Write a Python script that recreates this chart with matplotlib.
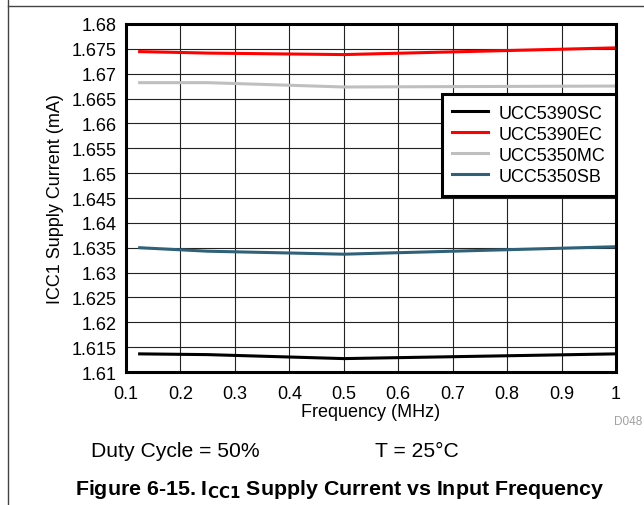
import matplotlib
matplotlib.use("Agg")
import matplotlib.pyplot as plt
from matplotlib.lines import Line2D

plt.rcParams['font.family'] = ['Liberation Sans', 'DejaVu Sans']

# Data
freq_mhz = [0.125, 0.25, 0.5, 1.0]
ucc5390sc = [1.61365, 1.6135, 1.6127, 1.61365]
ucc5390ec = [1.67445, 1.67415, 1.67385, 1.6752]
ucc5350mc = [1.6682, 1.6682, 1.66733, 1.66752]
ucc5350sb = [1.635, 1.6343, 1.6337, 1.6352]

series_names = ["UCC5390SC", "UCC5390EC", "UCC5350MC", "UCC5350SB"]
series_colors = ["#000000", "#ff0000", "#bfbfbf", "#2f6179"]
series_values = [ucc5390sc, ucc5390ec, ucc5350mc, ucc5350sb]

x_ticks = [0.1, 0.2, 0.3, 0.4, 0.5, 0.6, 0.7, 0.8, 0.9, 1.0]
x_tick_labels = ["0.1", "0.2", "0.3", "0.4", "0.5", "0.6", "0.7", "0.8", "0.9", "1"]
y_ticks = [1.61 + 0.005 * i for i in range(15)]
y_tick_labels = ["1.61", "1.615", "1.62", "1.625", "1.63", "1.635", "1.64", "1.645",
                 "1.65", "1.655", "1.66", "1.665", "1.67", "1.675", "1.68"]

fig = plt.figure(figsize=(6.44, 5.06), dpi=100)
ax = fig.add_axes([0.1957, 0.2628, 0.7608, 0.6878])

for name, color, vals in zip(series_names, series_colors, series_values):
    ax.plot(freq_mhz, vals, color=color, lw=2.2, label=name, solid_joinstyle='round')

ax.set_xlim(0.1, 1.0)
ax.set_ylim(1.61, 1.68)
ax.set_xticks(x_ticks)
ax.set_xticklabels(x_tick_labels)
ax.set_yticks(y_ticks)
ax.set_yticklabels(y_tick_labels)
ax.tick_params(length=0, labelsize=13)
ax.tick_params(axis='x', pad=9)
ax.tick_params(axis='y', pad=7)
ax.grid(True, color='#222222', lw=0.8)
ax.set_axisbelow(True)
for sp in ax.spines.values():
    sp.set_linewidth(2.2)

ax.set_xlabel("Frequency (MHz)", fontsize=13, labelpad=1)
ax.set_ylabel("ICC1 Supply Current (mA)", fontsize=13, labelpad=5)

leg = ax.legend(loc='upper right', bbox_to_anchor=(1.0, 0.799), fontsize=13,
                frameon=True, fancybox=False, edgecolor='black', framealpha=1,
                handlelength=2.0, handletextpad=0.55, labelspacing=0.22,
                borderpad=0.6, borderaxespad=0)
leg.get_frame().set_linewidth(2.2)

# Page frame lines
fig.add_artist(Line2D([8 / 644, 1.0], [1 - 7 / 506, 1 - 7 / 506], color='#444444', lw=1))
fig.add_artist(Line2D([8 / 644, 8 / 644], [0, 1], color='#444444', lw=1))

fig.text(628 / 644, 1 - 422 / 506, "D048", fontsize=8.5, color='#a0a0a0', ha='center', va='center')
fig.text(91 / 644, 1 - 452 / 506, "Duty Cycle = 50%", fontsize=15.2, ha='left', va='center')
fig.text(375 / 644, 1 - 452 / 506, "T = 25°C", fontsize=15.2, ha='left', va='center')
fig.text(340 / 644, 1 - 490 / 506, r"Figure 6-15. I$_{\mathbf{CC1}}$ Supply Current vs Input Frequency",
         fontsize=15.4, fontweight='bold', ha='center', va='center')

fig.savefig("out.png", dpi=100)
